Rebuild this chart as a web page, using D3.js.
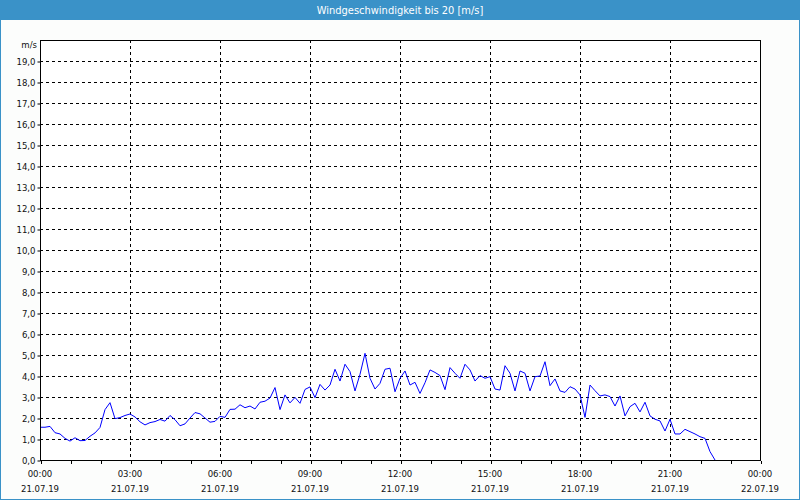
<!DOCTYPE html>
<html>
<head>
<meta charset="utf-8">
<script src="https://cdn.jsdelivr.net/npm/d3@7/dist/d3.min.js"></script>
<style>
  html, body { margin: 0; padding: 0; background: #fff; }
  svg { display: block; }
  text { font-family: 'DejaVu Sans Condensed', 'Liberation Sans Narrow', 'DejaVu Sans', sans-serif; }
</style>
</head>
<body>
<svg id="chart" width="800" height="500"></svg>
<script>
// ---- data ----
const title = "Windgeschwindigkeit bis 20 [m/s]";
const unitLabel = "m/s";
const startDate = "2019-07-21T00:00";
const stepMinutes = 10;
// wind speed [m/s], one value every 10 minutes starting 21.07.19 00:00
const windSpeed = [
  1.56, 1.56, 1.60, 1.30, 1.24, 1.03, 0.90, 1.06, 0.92, 0.93,
  1.13, 1.29, 1.55, 2.40, 2.73, 1.97, 2.02, 2.12, 2.19, 2.05,
  1.82, 1.67, 1.78, 1.83, 1.93, 1.85, 2.12, 1.92, 1.63, 1.72,
  2.00, 2.26, 2.20, 2.00, 1.80, 1.84, 2.08, 2.03, 2.41, 2.42,
  2.63, 2.49, 2.57, 2.43, 2.75, 2.80, 2.95, 3.45, 2.40, 3.10,
  2.72, 2.98, 2.70, 3.36, 3.48, 2.97, 3.60, 3.33, 3.57, 4.32,
  3.76, 4.56, 4.21, 3.29, 4.08, 5.08, 3.89, 3.38, 3.65, 4.32,
  4.37, 3.25, 3.89, 4.24, 3.57, 3.70, 3.17, 3.68, 4.29, 4.17,
  4.02, 3.35, 4.40, 4.13, 3.89, 4.56, 4.29, 3.76, 4.02, 3.89,
  3.97, 3.38, 3.33, 4.49, 4.13, 3.29, 4.24, 4.13, 3.29, 3.97,
  4.00, 4.68, 3.54, 3.86, 3.29, 3.22, 3.49, 3.38, 3.10, 2.03,
  3.57, 3.30, 3.05, 3.10, 3.02, 2.57, 3.05, 2.10, 2.54, 2.70,
  2.29, 2.75, 2.10, 1.94, 1.86, 1.38, 1.94, 1.24, 1.24, 1.46,
  1.35, 1.24, 1.11, 1.03, 0.40, 0.00
];
const yTickValues = d3.range(0, 20, 1);     // 0,0 ... 19,0
const yGridValues = d3.range(1, 20, 1);
const xMajorHours = [0, 3, 6, 9, 12, 15, 18, 21, 24];

// ---- layout ----
const svg = d3.select("#chart");
const W = 800, H = 500;
const m = { left: 40, right: 40, top: 40, bottom: 40 };
const x0 = new Date(startDate);
const x1 = d3.timeHour.offset(x0, 24);
const x = d3.scaleTime().domain([x0, x1]).range([m.left, W - m.right]);
const y = d3.scaleLinear().domain([0, 20]).range([H - m.bottom, m.top]);

const ink = "#000";
const blue = "#3a92c8";

svg.append("rect").attr("x", 0).attr("y", 0).attr("width", W).attr("height", H).attr("fill", "#fcfdfc");
svg.append("rect").attr("x", 0).attr("y", 0).attr("width", W).attr("height", 20).attr("fill", blue);
svg.append("rect").attr("x", 0.5).attr("y", 0.5).attr("width", W - 1).attr("height", H - 1)
   .attr("fill", "none").attr("stroke", blue);
svg.append("text").attr("x", W / 2).attr("y", 14).attr("text-anchor", "middle")
   .attr("fill", "#fff").style("font-size", "11px").text(title);

// plot area
svg.append("rect").attr("x", m.left).attr("y", m.top).attr("width", W - m.left - m.right)
   .attr("height", H - m.top - m.bottom).attr("fill", "#fff");

// grid
const grid = svg.append("g").attr("stroke", ink).attr("stroke-dasharray", "3,3").attr("shape-rendering", "crispEdges");
grid.selectAll("line.h").data(yGridValues).join("line")
  .attr("x1", m.left).attr("x2", W - m.right)
  .attr("y1", d => Math.round(y(d)) + 0.5).attr("y2", d => Math.round(y(d)) + 0.5);
grid.selectAll("line.v").data(xMajorHours.slice(1, -1)).join("line")
  .attr("y1", m.top).attr("y2", H - m.bottom)
  .attr("x1", d => Math.round(x(d3.timeHour.offset(x0, d))) + 0.5)
  .attr("x2", d => Math.round(x(d3.timeHour.offset(x0, d))) + 0.5);

// data line
const data = windSpeed.map((v, i) => ({ t: d3.timeMinute.offset(x0, i * stepMinutes), v }));
svg.append("path").datum(data)
  .attr("fill", "none").attr("stroke", "#0000ff").attr("stroke-width", 1)
  .attr("d", d3.line().x(d => x(d.t)).y(d => y(d.v)));

// frame
svg.append("rect").attr("x", m.left + 0.5).attr("y", m.top + 0.5)
   .attr("width", W - m.left - m.right).attr("height", H - m.top - m.bottom)
   .attr("fill", "none").attr("stroke", ink).attr("shape-rendering", "crispEdges");

// x axis (hour ticks)
const xAxis = d3.axisBottom(x).ticks(d3.timeHour.every(1)).tickSize(3).tickFormat("");
const gx = svg.append("g").attr("transform", `translate(0.5,${H - m.bottom + 0.5})`).call(xAxis);
gx.select(".domain").remove();
gx.selectAll("line").attr("stroke", ink).attr("shape-rendering", "crispEdges");

const fmtTime = d3.timeFormat("%H:%M");
const fmtDate = d3.timeFormat("%d.%m.%y");
const xl = svg.append("g").attr("fill", "#111").style("font-size", "9.5px").attr("text-anchor", "middle");
xMajorHours.forEach(h => {
  const t = d3.timeHour.offset(x0, h);
  xl.append("text").attr("x", x(t)).attr("y", 477).text(fmtTime(t));
  xl.append("text").attr("x", x(t)).attr("y", 492).text(fmtDate(t));
});

// y axis
const yAxis = d3.axisLeft(y).tickValues(yTickValues).tickSize(3).tickPadding(2)
  .tickFormat(d => d3.format(".1f")(d).replace(".", ","));
const gy = svg.append("g").attr("transform", `translate(${m.left + 0.5},0.5)`).call(yAxis);
gy.select(".domain").remove();
gy.selectAll("line").attr("stroke", ink);
gy.selectAll("text").attr("fill", "#111").style("font-size", "9.5px")
  .style("font-family", "'DejaVu Sans Condensed', 'Liberation Sans Narrow', 'DejaVu Sans', sans-serif");
svg.append("text").attr("x", 37).attr("y", 48).attr("text-anchor", "end")
   .attr("fill", "#111").style("font-size", "9.5px").text(unitLabel);
</script>
</body>
</html>
